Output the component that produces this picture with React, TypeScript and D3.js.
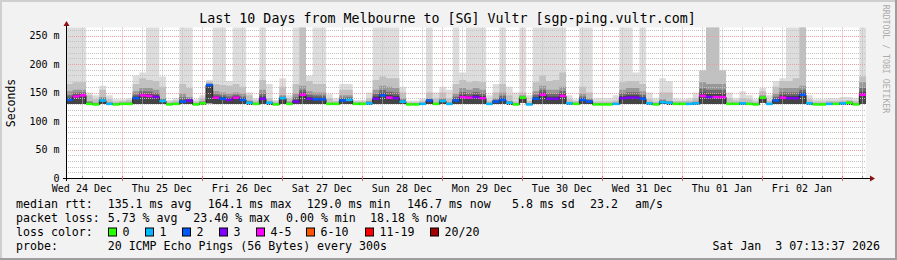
import React from 'react';
import * as d3 from 'd3';

const WIDTH = 897;
const HEIGHT = 260;

const titleText = 'Last 10 Days from Melbourne to [SG] Vultr [sgp-ping.vultr.com]';
const yAxisTitle = 'Seconds';
const watermark = 'RRDTOOL / TOBI OETIKER';
const endTimeLabel = 'Sat Jan  3 07:13:37 2026';
const graphEnd = Date.UTC(2026, 0, 3, 7, 13, 37);
const rangeHours = 240;
const binHours = 2;

const yTickValues = [0, 50, 100, 150, 200, 250];
const yTickLabels = ['0', '50 m', '100 m', '150 m', '200 m', '250 m'];

// median RTT per 2-hour bin (ms)
const medianMs = [
  137, 143, 145, 130, 129, 136, 130, 129, 130, 130,
  140, 145, 144, 142, 135, 129, 130, 134, 136, 129,
  131, 163, 141, 139, 137, 141, 137, 132, 130, 139,
  132, 129, 140, 130, 134, 146, 139, 138, 138, 130,
  130, 136, 137, 130, 130, 131, 139, 145, 141, 140,
  134, 129, 129, 130, 136, 130, 135, 130, 136, 142,
  141, 142, 140, 130, 134, 137, 132, 129, 141, 129,
  139, 146, 139, 139, 144, 131, 130, 137, 134, 129,
  129, 129, 130, 140, 141, 141, 139, 131, 129, 133,
  132, 130, 130, 130, 131, 144, 142, 142, 142, 130,
  130, 131, 130, 129, 141, 130, 136, 141, 140, 140,
  146, 131, 129, 129, 130, 130, 131, 132, 129, 146,
];
// loss colour class per bin (index into lossColors)
const lossClass = [
  2, 4, 4, 0, 0, 1, 1, 0, 0, 0,
  2, 4, 4, 3, 1, 0, 0, 2, 3, 0,
  0, 2, 4, 2, 3, 4, 2, 1, 0, 3,
  1, 0, 1, 0, 3, 4, 3, 2, 2, 0,
  0, 2, 1, 0, 0, 1, 3, 2, 4, 3,
  1, 0, 0, 1, 2, 0, 1, 1, 2, 4,
  4, 3, 4, 1, 2, 2, 1, 0, 0, 1,
  2, 4, 3, 3, 4, 1, 0, 2, 2, 0,
  0, 0, 1, 3, 3, 3, 2, 1, 0, 1,
  1, 0, 0, 1, 1, 4, 3, 4, 4, 0,
  0, 1, 0, 0, 0, 1, 2, 4, 3, 3,
  2, 1, 0, 0, 1, 0, 1, 0, 0, 4,
];
// lowest ping per bin (ms)
const minMs = [
  130, 130, 130, 128, 128, 130, 128, 128, 128, 128,
  130, 130, 130, 130, 130, 128, 128, 130, 130, 128,
  128, 131, 130, 130, 130, 130, 130, 128, 128, 130,
  128, 128, 130, 128, 130, 130, 130, 130, 130, 128,
  128, 130, 130, 128, 128, 128, 130, 130, 130, 130,
  130, 128, 128, 128, 130, 128, 130, 128, 130, 130,
  130, 130, 130, 128, 130, 130, 128, 128, 132, 128,
  130, 130, 130, 130, 130, 128, 128, 130, 130, 128,
  128, 128, 128, 130, 130, 130, 130, 128, 128, 130,
  128, 128, 128, 128, 128, 130, 130, 130, 130, 128,
  128, 128, 128, 128, 132, 128, 130, 130, 130, 130,
  130, 128, 128, 128, 128, 128, 128, 128, 128, 130,
];
// dense smoke top per bin (ms)
const darkMs = [
  152, 155, 155, 135, 132, 142, 133, 131, 132, 133,
  152, 158, 158, 155, 140, 131, 132, 148, 142, 131,
  135, 166, 152, 150, 148, 150, 148, 136, 132, 155,
  134, 131, 145, 134, 148, 162, 152, 150, 150, 132,
  132, 145, 145, 132, 132, 135, 155, 162, 160, 158,
  140, 131, 131, 132, 140, 132, 140, 133, 148, 158,
  155, 158, 155, 132, 140, 150, 135, 131, 145, 131,
  152, 162, 155, 155, 160, 133, 132, 148, 140, 131,
  131, 131, 132, 155, 158, 158, 152, 133, 131, 138,
  135, 132, 132, 132, 134, 168, 165, 165, 165, 132,
  132, 133, 132, 131, 145, 132, 148, 158, 158, 158,
  162, 133, 131, 131, 132, 132, 133, 134, 131, 168,
];
// medium smoke top per bin (ms)
const midMs = [
  165, 168, 168, 145, 138, 155, 138, 134, 135, 137,
  165, 175, 172, 170, 160, 134, 136, 165, 158, 134,
  140, 169, 165, 163, 162, 165, 160, 145, 136, 172,
  140, 134, 160, 140, 165, 270, 170, 165, 165, 140,
  135, 155, 155, 134, 134, 140, 172, 178, 175, 175,
  150, 133, 133, 135, 150, 140, 150, 140, 165, 172,
  168, 170, 168, 136, 150, 165, 145, 134, 150, 135,
  168, 180, 170, 172, 185, 138, 135, 160, 150, 134,
  134, 134, 136, 168, 170, 170, 165, 138, 134, 150,
  150, 135, 135, 136, 140, 188, 270, 270, 188, 140,
  136, 140, 138, 134, 152, 136, 160, 170, 170, 175,
  270, 138, 134, 134, 135, 135, 136, 137, 135, 178,
];
// highest ping per bin (ms)
const maxMs = [
  280, 280, 280, 150, 145, 162, 145, 138, 138, 140,
  180, 185, 280, 280, 178, 137, 140, 280, 280, 138,
  145, 172, 280, 280, 170, 280, 280, 150, 140, 280,
  165, 137, 175, 145, 280, 280, 180, 280, 280, 147,
  140, 165, 165, 137, 137, 150, 280, 280, 280, 280,
  160, 136, 136, 140, 280, 150, 160, 155, 280, 185,
  280, 280, 280, 145, 165, 280, 160, 150, 280, 145,
  280, 280, 280, 280, 280, 145, 138, 280, 280, 140,
  140, 140, 145, 280, 280, 185, 280, 150, 140, 175,
  170, 140, 138, 140, 150, 190, 280, 280, 190, 150,
  140, 152, 145, 138, 158, 145, 170, 175, 280, 280,
  280, 145, 138, 138, 140, 140, 142, 142, 140, 280,
];

const lossColors = ['#26ff00', '#00b8ff', '#0059ff', '#7e00ff', '#ff00ff', '#ff5500', '#ff0000', '#a00000'];
const lossLabels = ['0', '1', '2', '3', '4-5', '6-10', '11-19', '20/20'];

const rttLabel = 'median rtt:';
const rttStats = ['135.1 ms avg', '164.1 ms max', '129.0 ms min', '146.7 ms now', '5.8 ms sd', '23.2', 'am/s'];
const lossLabel = 'packet loss:';
const lossStats = ['5.73 % avg', '23.40 % max', '0.00 % min', '18.18 % now'];
const lossColorLabel = 'loss color:';
const probeLabel = 'probe:';
const probeText = '20 ICMP Echo Pings (56 Bytes) every 300s';

// layout
const rttX = [107.7, 207.7, 306.7, 407, 512, 590, 635];
const lossX = [107.7, 193.3, 286, 370];
const squareX = [108, 145, 182, 219, 256, 306, 365, 430];
const FONT = "'DejaVu Sans Mono', monospace";

export default function App() {
  const plotLeft = 66;
  const plotRight = 866;
  const plotTop = 27.5;
  const plotBottom = 178;

  const end = new Date(graphEnd);
  const start = new Date(graphEnd - rangeHours * 3600e3);
  const x = d3.scaleUtc().domain([start, end]).range([plotLeft, plotRight]);
  const y = d3.scaleLinear().domain([0, 250]).range([plotBottom, 35.5]);
  const yTop = y.invert(plotTop);
  const n = medianMs.length;
  const binStart = (i: number) => new Date(+start + i * binHours * 3600e3);

  type P = { t: Date; lo: number; hi: number };
  const stepPts = (top: number[]): P[] => {
    const pts = medianMs.map((_, i) => ({ t: binStart(i), lo: minMs[i], hi: top[i] }));
    pts.push({ t: end, lo: minMs[n - 1], hi: top[n - 1] });
    return pts;
  };
  const area = d3
    .area<P>()
    .x((d) => x(d.t))
    .y0((d) => y(d.lo))
    .y1((d) => y(Math.min(d.hi, yTop + 2)))
    .curve(d3.curveStepAfter);

  const core1 = medianMs.map((m, i) => m + (darkMs[i] - m) * 0.55);
  const core2 = medianMs.map((m, i) => m + (darkMs[i] - m) * 0.25);
  const smokeBands = [
    { top: maxMs, color: '#dddddd' },
    { top: midMs, color: '#c0c0c0' },
    { top: darkMs, color: '#989898' },
    { top: core1, color: '#6c6c6c' },
    { top: core2, color: '#444444' },
  ];

  const medPts = medianMs.map((m, i) => ({ t: binStart(i), v: m }));
  medPts.push({ t: end, v: medianMs[n - 1] });
  const medLine = d3
    .line<{ t: Date; v: number }>()
    .x((d) => x(d.t))
    .y((d) => y(d.v))
    .curve(d3.curveStepAfter);

  const px = (v: number) => Math.round(v) + 0.5;

  const sixHours = d3.utcHour.every(6)!.range(start, end).filter((d) => d.getUTCHours() !== 0);
  const midnights = d3.utcDay.range(start, end);
  const noons = d3.utcDay
    .range(d3.utcDay.floor(start), end)
    .map((d) => new Date(+d + 12 * 3600e3))
    .filter((d) => d >= start && d <= end);
  const fmt = d3.utcFormat('%a %d %b');

  const minorY = d3.range(10, yTop, 10).filter((v) => v % 50 !== 0);
  const majorY = yTickValues.filter((v) => v > 0);

  const minorCol = '#c2c2c2';
  const majorCol = '#e6a0a0';

  return (
    <svg
      width={WIDTH}
      height={HEIGHT}
      style={{ position: 'absolute', left: 0, top: 0 }}
      fontFamily={FONT}
    >
      <defs>
        <clipPath id="plotClip">
          <rect x={plotLeft} y={plotTop} width={plotRight - plotLeft} height={plotBottom - plotTop} />
        </clipPath>
      </defs>
      <rect x={0} y={0} width={WIDTH} height={HEIGHT} fill="#f2f2f2" />
      {/* 3D border */}
      <rect x={0} y={0} width={WIDTH} height={2} fill="#cfcfcf" />
      <rect x={0} y={0} width={2} height={HEIGHT} fill="#cfcfcf" />
      <rect x={0} y={HEIGHT - 2} width={WIDTH} height={2} fill="#9e9e9e" />
      <rect x={WIDTH - 2} y={0} width={2} height={HEIGHT} fill="#9e9e9e" />

      <rect x={plotLeft} y={plotTop} width={plotRight - plotLeft} height={plotBottom - plotTop} fill="#ffffff" />

      <g clipPath="url(#plotClip)">
        {smokeBands.map((b, k) => (
          <path key={k} d={area(stepPts(b.top)) || ''} fill={b.color} />
        ))}
      </g>

      {/* grid */}
      <g strokeWidth={1} strokeDasharray="1 1" fill="none">
        {minorY.map((v) => (
          <line key={'my' + v} x1={plotLeft} x2={plotRight} y1={px(y(v))} y2={px(y(v))} stroke={minorCol} />
        ))}
        {sixHours.map((d) => (
          <line key={'mx' + +d} x1={px(x(d))} x2={px(x(d))} y1={plotTop} y2={plotBottom} stroke={minorCol} />
        ))}
        {majorY.map((v) => (
          <line key={'My' + v} x1={plotLeft} x2={plotRight} y1={px(y(v))} y2={px(y(v))} stroke={majorCol} />
        ))}
        {midnights.map((d) => (
          <line key={'Mx' + +d} x1={px(x(d))} x2={px(x(d))} y1={plotTop} y2={plotBottom} stroke={majorCol} />
        ))}
      </g>

      {/* median line */}
      <g clipPath="url(#plotClip)">
        <path d={medLine(medPts) || ''} fill="none" stroke="#202020" strokeWidth={1} />
        {medianMs.map((m, i) => {
          const x0 = x(binStart(i));
          const x1 = x(binStart(i + 1));
          return (
            <rect key={i} x={x0} y={y(m) - 1.25} width={x1 - x0} height={2.5} fill={lossColors[lossClass[i]]} />
          );
        })}
      </g>

      {/* axes */}
      <line x1={63} x2={870} y1={plotBottom + 0.5} y2={plotBottom + 0.5} stroke="#000" />
      <line x1={plotLeft + 0.5} x2={plotLeft + 0.5} y1={plotBottom + 3} y2={24} stroke="#000" />
      <polygon points={`870,175.5 875,178.5 870,181.5`} fill="#8b1010" />
      <polygon points={`63.5,26 66.5,21 69.5,26`} fill="#8b1010" />
      {sixHours.map((d) => (
        <line key={'tx' + +d} x1={px(x(d))} x2={px(x(d))} y1={plotBottom - 2} y2={plotBottom} stroke="#8c8c8c" />
      ))}
      {midnights.map((d) => (
        <line key={'tX' + +d} x1={px(x(d))} x2={px(x(d))} y1={plotBottom - 2} y2={plotBottom + 3} stroke="#d07070" />
      ))}

      {/* y labels */}
      {yTickValues.map((v, i) => (
        <text key={'yl' + v} x={59.5} y={y(v) + 3.6} fontSize={10} textAnchor="end" fill="#000">
          {yTickLabels[i]}
        </text>
      ))}
      <text transform={`translate(15,103) rotate(-90)`} fontSize={11.5} textAnchor="middle" fill="#000">
        {yAxisTitle}
      </text>

      {/* x labels */}
      {noons.map((d) => (
        <text key={'xl' + +d} x={x(d)} y={191.5} fontSize={10} textAnchor="middle" fill="#000">
          {fmt(d)}
        </text>
      ))}

      {/* title */}
      <text x={447.5} y={23} fontSize={13.3} textAnchor="middle" fill="#000">
        {titleText}
      </text>

      {/* watermark */}
      <text transform={`translate(883,59) rotate(90)`} fontSize={8.2} textAnchor="middle" fill="#acacac">
        {watermark}
      </text>

      {/* legend */}
      <g fontSize={11.6} fill="#000">
        <text x={16} y={208.3}>{rttLabel}</text>
        {rttStats.map((s, i) => (
          <text key={'r' + i} x={rttX[i]} y={208.3}>{s}</text>
        ))}
        <text x={16} y={222.3}>{lossLabel}</text>
        {lossStats.map((s, i) => (
          <text key={'l' + i} x={lossX[i]} y={222.3}>{s}</text>
        ))}
        <text x={16} y={236.3}>{lossColorLabel}</text>
        {lossLabels.map((s, i) => (
          <g key={'c' + i}>
            <rect x={squareX[i] + 0.5} y={228} width={8} height={8} fill={lossColors[i]} stroke="#000" />
            <text x={squareX[i] + 14.5} y={236.3}>{s}</text>
          </g>
        ))}
        <text x={16} y={250.2}>{probeLabel}</text>
        <text x={107.7} y={250.2}>{probeText}</text>
        <text x={880} y={250.2} textAnchor="end" style={{ whiteSpace: 'pre' }}>{endTimeLabel}</text>
      </g>
    </svg>
  );
}
